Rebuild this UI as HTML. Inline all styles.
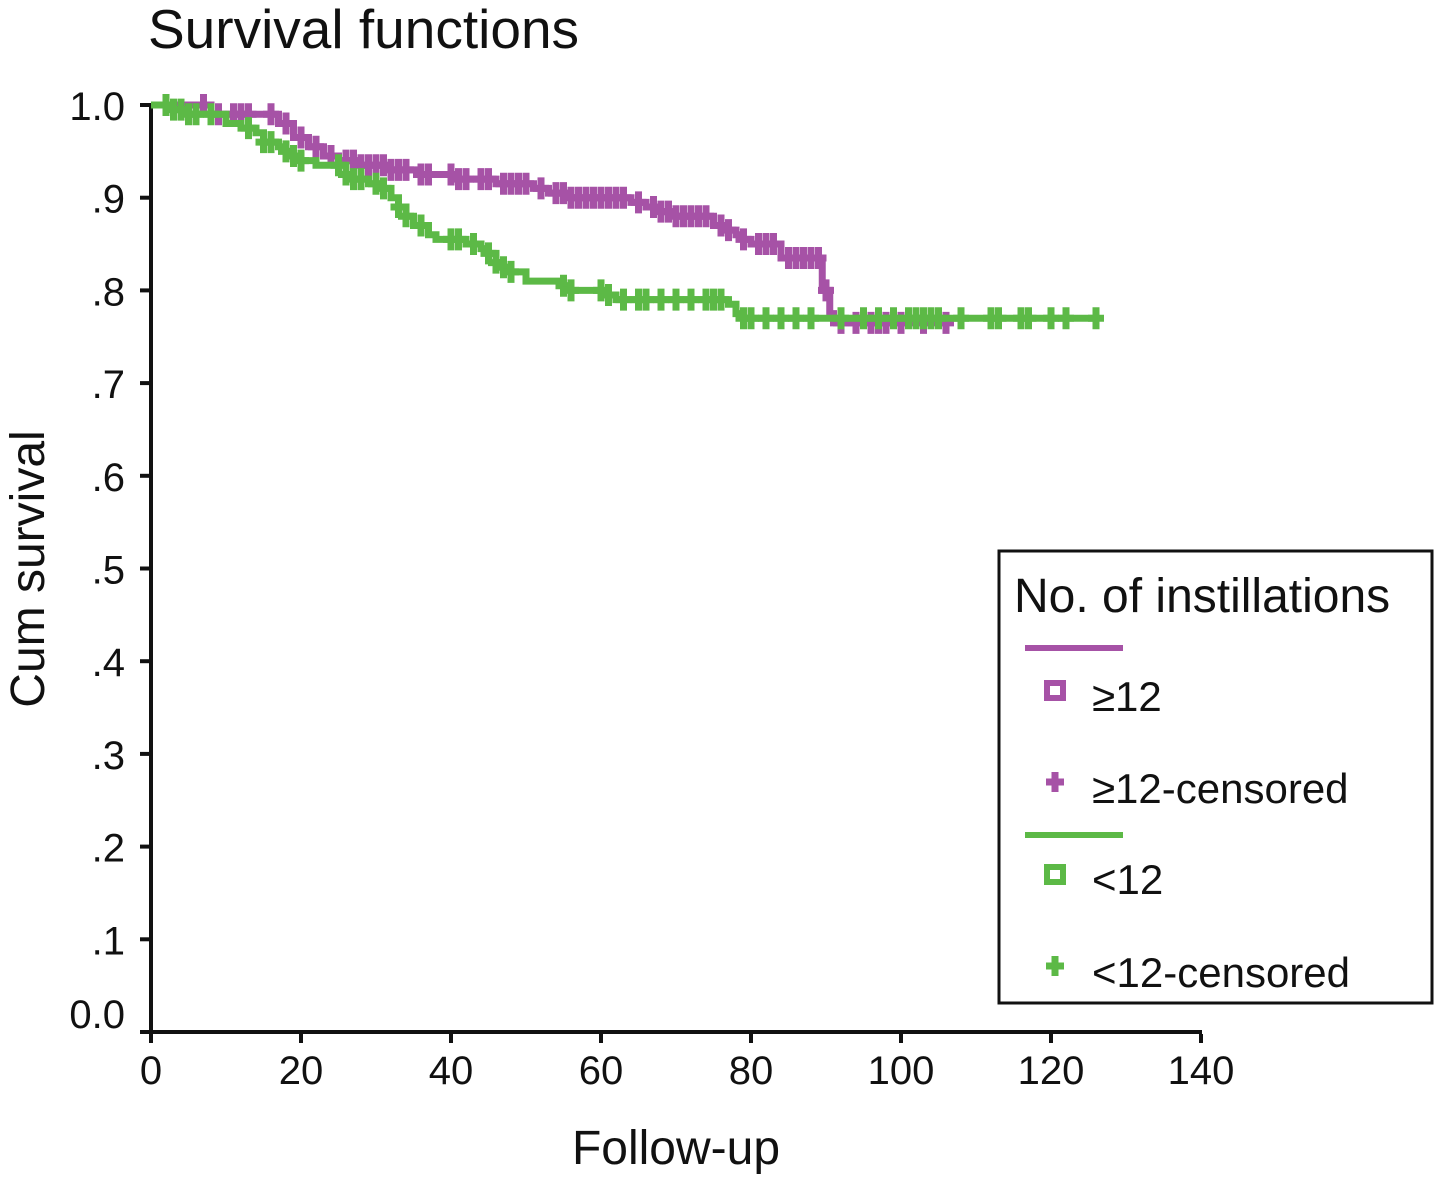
<!DOCTYPE html>
<html><head><meta charset="utf-8"><style>
body{margin:0;background:#fff;}
svg text{font-family:"Liberation Sans",Arial,sans-serif;fill:#111;}
</style></head><body>
<svg width="1436" height="1174" xmlns="http://www.w3.org/2000/svg">
<text x="148" y="48" font-size="55">Survival functions</text>
<g id="axes"></g>
<g id="series"></g>
<text transform="translate(44,569) rotate(-90)" text-anchor="middle" font-size="48">Cum survival</text>
<text x="676" y="1164" text-anchor="middle" font-size="48">Follow-up</text>
<g>
<rect x="999" y="551" width="433" height="452" fill="#fff" stroke="#111" stroke-width="3"/>
<text x="1014" y="612" font-size="48">No. of instillations</text>
<line x1="1025" y1="648" x2="1123" y2="648" stroke="#a652a6" stroke-width="6"/>
<rect x="1047" y="683" width="16" height="15" fill="none" stroke="#a652a6" stroke-width="6"/>
<text x="1092" y="711" font-size="42">≥12</text>
<path d="M1046 782h18M1055 772v20" stroke="#a652a6" stroke-width="7"/>
<text x="1092" y="803" font-size="42">≥12-censored</text>
<line x1="1025" y1="835" x2="1123" y2="835" stroke="#5cb946" stroke-width="6"/>
<rect x="1047" y="867" width="16" height="15" fill="none" stroke="#5cb946" stroke-width="6"/>
<text x="1092" y="894" font-size="42">&lt;12</text>
<path d="M1046 966h18M1055 956v20" stroke="#5cb946" stroke-width="7"/>
<text x="1092" y="987" font-size="42">&lt;12-censored</text>
</g>
</svg>
<script>
const xTicks=[0,20,40,60,80,100,120,140];
const yTicks=[0,0.1,0.2,0.3,0.4,0.5,0.6,0.7,0.8,0.9,1.0];
const yTickLabels=["0.0",".1",".2",".3",".4",".5",".6",".7",".8",".9","1.0"];
const geTimes=[0,8,17,19,21,23,25,28,32,36,41,46,51,53,56,64,66,68,70,75,77,78,79,80,84,89.5,90.5,91];
const geSurv=[1,0.99,0.98,0.965,0.955,0.945,0.94,0.935,0.93,0.925,0.92,0.915,0.91,0.905,0.9,0.895,0.89,0.885,0.88,0.87,0.865,0.86,0.855,0.85,0.835,0.8,0.775,0.765];
const geEnd=106;
const geCensor=[7,9,11,12,13,16,18,20,22,24,26,27,28,29,30,31,32,33,34,36,37,40,41,42,44,45,47,48,49,50,52,54,55,56,57,58,59,60,61,62,63,65,67,68,69,70,71,72,73,74,76,77,79,81,82,83,85,86,87,88,89,90,92,94,96,97,98,100,103,106];
const ltTimes=[0,3,5,10,12,14,15,17,18,19,20,22,26,27,29,31,32,33,34,35,37,38,42,44,45,46,47,48,50,55,56,61,62,77,78,79];
const ltSurv=[1,0.995,0.99,0.98,0.975,0.97,0.96,0.955,0.95,0.945,0.94,0.935,0.925,0.92,0.915,0.91,0.9,0.89,0.88,0.87,0.86,0.855,0.85,0.845,0.84,0.83,0.825,0.82,0.81,0.805,0.8,0.795,0.79,0.785,0.775,0.77];
const ltEnd=126;
const ltCensor=[2,3,4,5,6,8,13,15,16,18,19,20,25,26,27,28,30,31,33,34,36,40,41,43,45,46,47,48,55,56,60,61,63,65,66,68,70,72,74,75,76,79,80,82,84,86,88,92,95,97,99,101,102,103,104,105,108,112,113,116,117,120,122,126];
const X=v=>151+v*7.5, Y=v=>1032-v*927;
const ns="http://www.w3.org/2000/svg";
function mk(t,a,p){const e=document.createElementNS(ns,t);for(const k in a)e.setAttribute(k,a[k]);p.appendChild(e);return e;}
const ax=document.getElementById('axes');
let a=mk('line',{x1:151,y1:Y(1),x2:151,y2:1033,stroke:'#111','stroke-width':4},ax);


a=mk('line',{x1:140,y1:1032,x2:1202,y2:1032,stroke:'#111','stroke-width':4},ax);


xTicks.forEach(t=>{mk('line',{x1:X(t),y1:1034,x2:X(t),y2:1043,stroke:'#111','stroke-width':4},ax);
const tx=mk('text',{x:X(t),y:1084,'text-anchor':'middle','font-size':40},ax);tx.textContent=t;

});
yTicks.forEach((t,i)=>{mk('line',{x1:140,y1:Y(t),x2:151,y2:Y(t),stroke:'#111','stroke-width':4},ax);
const ty=mk('text',{x:125,y:(t===0?1013:Y(t))+15,'text-anchor':'end','font-size':40},ax);ty.textContent=yTickLabels[i];

});
function survAt(times,surv,t){let s=surv[0];for(let i=0;i<times.length;i++)if(times[i]<=t)s=surv[i];return s;}
function draw(times,surv,end,cens,col,name){
const g=mk('g',{},document.getElementById('series'));


let d='M'+X(times[0])+' '+Y(surv[0]);
for(let i=1;i<times.length;i++){d+='H'+X(times[i])+'V'+Y(surv[i]);}
d+='H'+X(end);
const p=mk('path',{d:d,fill:'none',stroke:col,'stroke-width':7},g);


cens.forEach(t=>{const x=X(t),y=Y(survAt(times,surv,t));
const c=mk('path',{d:`M${x-8} ${y}h16M${x} ${y-11}v22`,stroke:col,'stroke-width':7},g);

});
}
draw(geTimes,geSurv,geEnd,geCensor,'#a652a6','ge12');
draw(ltTimes,ltSurv,ltEnd,ltCensor,'#5cb946','lt12');
</script>
</body></html>
